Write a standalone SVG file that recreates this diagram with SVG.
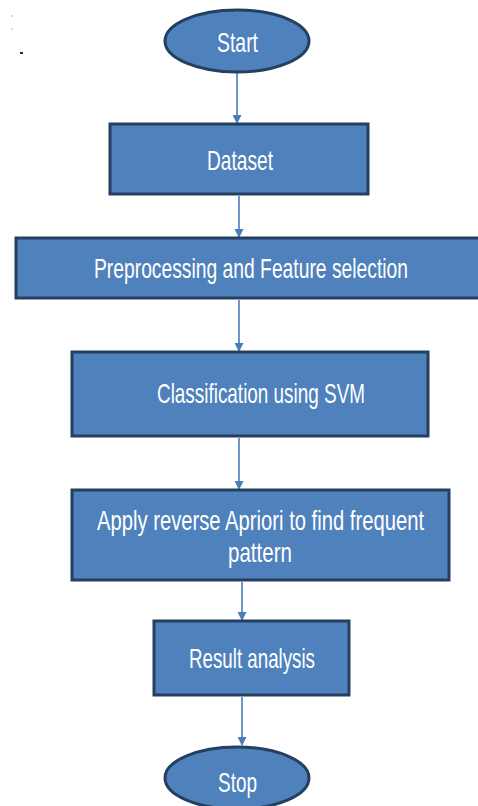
<svg xmlns="http://www.w3.org/2000/svg" width="478" height="806" viewBox="0 0 478 806">
  <style>
    .shape { fill: #4f81bd; stroke: #243f60; stroke-width: 3; }
    .label { fill: #ffffff; font-family: "Liberation Sans", Arial, sans-serif; font-size: 20px; }
    .link { stroke: #4a7ebb; stroke-width: 1.6; fill: none; marker-end: url(#head); }
  </style>
  <defs>
    <marker id="head" markerWidth="9" markerHeight="9" refX="8" refY="4.5" orient="auto" markerUnits="userSpaceOnUse">
      <path d="M0,0 L9,4.5 L0,9 Z" fill="#4a7ebb"/>
    </marker>
  </defs>
  <rect width="478" height="806" fill="#ffffff"/>

  <!-- stray specks in the top-left corner -->
  <rect x="11" y="15" width="2" height="2" fill="#f3d3a8"/>
  <rect x="11" y="28" width="2" height="2" fill="#f3d3a8"/>
  <rect x="20" y="52" width="3" height="2" fill="#2a2a3a"/>

  <g id="connectors">
    <line class="link" x1="237" y1="73" x2="237" y2="123"/>
    <line class="link" x1="239" y1="196" x2="239" y2="237"/>
    <line class="link" x1="239" y1="300" x2="239" y2="351"/>
    <line class="link" x1="239" y1="438" x2="239" y2="489"/>
    <line class="link" x1="242" y1="582" x2="242" y2="620"/>
    <line class="link" x1="242" y1="697" x2="242" y2="745"/>
  </g>

  <!-- labels are set in a tall, narrow face: 20px type stretched vertically -->
  <g id="start">
    <ellipse class="shape" cx="237" cy="41" rx="72" ry="31"/>
    <text class="label" transform="translate(217,52) scale(1,1.35)" textLength="41" lengthAdjust="spacingAndGlyphs">Start</text>
  </g>

  <g id="dataset">
    <rect class="shape" x="110" y="124" width="258" height="70"/>
    <text class="label" transform="translate(207,170) scale(1,1.35)" textLength="66" lengthAdjust="spacingAndGlyphs">Dataset</text>
  </g>

  <g id="preprocessing">
    <rect class="shape" x="16" y="238" width="468" height="60"/>
    <text class="label" transform="translate(94,278) scale(1,1.35)" textLength="314" lengthAdjust="spacingAndGlyphs">Preprocessing and Feature selection</text>
  </g>

  <g id="classification">
    <rect class="shape" x="72" y="352" width="356" height="84"/>
    <text class="label" transform="translate(157,403) scale(1,1.35)" textLength="208" lengthAdjust="spacingAndGlyphs">Classification using SVM</text>
  </g>

  <g id="apriori">
    <rect class="shape" x="72" y="490" width="377" height="90"/>
    <text class="label" transform="translate(97,530) scale(1,1.35)" textLength="327" lengthAdjust="spacingAndGlyphs">Apply reverse Apriori to find frequent</text>
    <text class="label" transform="translate(228,562) scale(1,1.35)" textLength="64" lengthAdjust="spacingAndGlyphs">pattern</text>
  </g>

  <g id="result">
    <rect class="shape" x="154" y="621" width="195" height="74"/>
    <text class="label" transform="translate(189,668) scale(1,1.35)" textLength="126" lengthAdjust="spacingAndGlyphs">Result analysis</text>
  </g>

  <g id="stop">
    <ellipse class="shape" cx="237" cy="778" rx="72" ry="31"/>
    <text class="label" transform="translate(218,792) scale(1,1.35)" textLength="39" lengthAdjust="spacingAndGlyphs">Stop</text>
  </g>
</svg>
